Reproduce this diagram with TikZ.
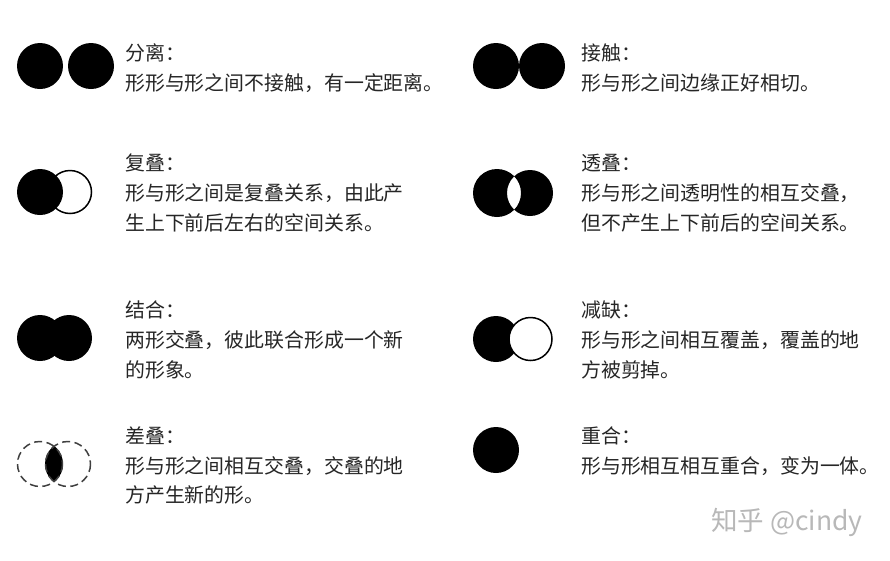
\documentclass[tikz,border=0pt]{standalone}
\usepackage{fontspec}
\setmainfont{Noto Sans CJK SC}
\begin{document}
\begin{tikzpicture}[x=1pt,y=-1pt,
  txt/.style={anchor=base west, inner sep=0pt, font=\fontsize{19.9}{24}\selectfont, text=black!85},
  blk/.style={fill=black},
  wm/.style={anchor=base west, inner sep=0pt, font=\fontsize{26.5}{30}\selectfont, text=black!28}]
\useasboundingbox[fill=white] (0,0) rectangle (890,560);
% ---- row 1
\fill[blk] (40,66) circle (23) (91,66) circle (23);
\fill[blk] (496,66) circle (23) (542,66) circle (23);
\node[txt] (t1) at (125,60) {分离：};
\node[txt] (b1) at (125,90) {形形与形之间不接触，有一定距离。};
\node[txt] (t2) at (581,60) {接触：};
\node[txt] (b2) at (581,90) {形与形之间边缘正好相切。};
% ---- row 2
\draw[line width=1.5pt, fill=white] (70,192) circle (21.5);
\fill[blk] (40,192) circle (23);
\fill[blk, even odd rule] (497,193) circle (24) (530,193) circle (23);
\node[txt] (t3) at (125,170) {复叠：};
\node[txt] (b3a) at (125,200) {形与形之间是复叠关系，由此产};
\node[txt] (b3b) at (125,230) {生上下前后左右的空间关系。};
\node[txt] (t4) at (581,170) {透叠：};
\node[txt] (b4a) at (581,200) {形与形之间透明性的相互交叠，};
\node[txt] (b4b) at (581,230) {但不产生上下前后的空间关系。};
% ---- row 3
\fill[blk] (40,338) circle (23) (69,338) circle (23);
\fill[blk] (496,339) circle (23);
\draw[line width=1.5pt, fill=white] (530.5,339) circle (21.5);
\node[txt] (t5) at (125,317) {结合：};
\node[txt] (b5a) at (125,347) {两形交叠，彼此联合形成一个新};
\node[txt] (b5b) at (125,377) {的形象。};
\node[txt] (t6) at (581,317) {减缺：};
\node[txt] (b6a) at (581,347) {形与形之间相互覆盖，覆盖的地};
\node[txt] (b6b) at (581,377) {方被剪掉。};
% ---- row 4
\begin{scope}
  \clip (40,464) circle (23);
  \fill[blk] (68,464) circle (23);
\end{scope}
\draw[black!75, line width=1.5pt, dash pattern=on 8pt off 4.5pt] (40,464) circle (22.5) (68,464) circle (22.5);
\fill[blk] (496,450) circle (23);
\node[txt] (t7) at (125,443) {差叠：};
\node[txt] (b7a) at (125,473) {形与形之间相互交叠，交叠的地};
\node[txt] (b7b) at (125,502) {方产生新的形。};
\node[txt] (t8) at (581,443) {重合：};
\node[txt] (b8) at (581,473) {形与形相互相互重合，变为一体。};
% ---- watermark
\node[wm] (w) at (711,530) {知乎 @cindy};
\end{tikzpicture}
\end{document}
